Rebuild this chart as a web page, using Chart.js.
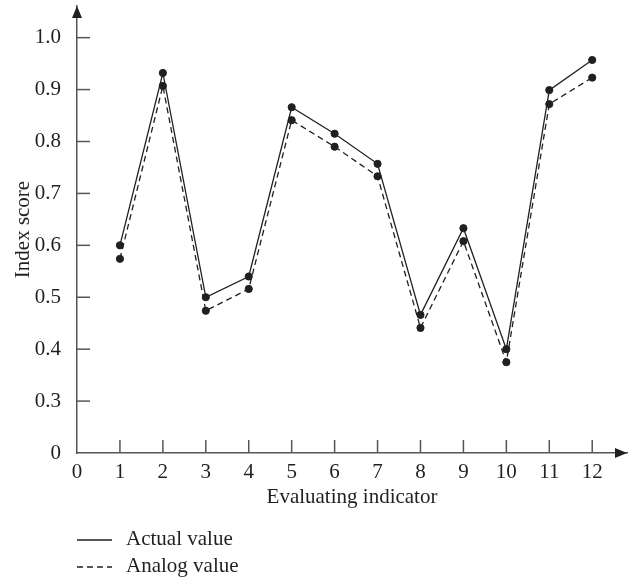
<!DOCTYPE html>
<html>
<head>
<meta charset="utf-8">
<script src="https://cdn.jsdelivr.net/npm/chart.js@4.4.1/dist/chart.umd.min.js"></script>
<style>
	html, body { margin: 0; padding: 0; background: #fff; }
	#wrap { width: 632px; height: 580px; }
</style>
</head>
<body>
<div id="wrap"><canvas id="index-chart" width="632" height="580"></canvas></div>
<script>

// data
const indicators = [1, 2, 3, 4, 5, 6, 7, 8, 9, 10, 11, 12];
const actualValues = [0.600, 0.932, 0.500, 0.540, 0.866, 0.815, 0.757, 0.466, 0.633, 0.400, 0.899, 0.957];
const analogValues = [0.574, 0.907, 0.474, 0.516, 0.841, 0.790, 0.733, 0.441, 0.608, 0.375, 0.872, 0.923];
const xTickLabels = [0, 1, 2, 3, 4, 5, 6, 7, 8, 9, 10, 11, 12];
const yTickLabels = [0, 0.3, 0.4, 0.5, 0.6, 0.7, 0.8, 0.9, 1.0];

const ink = '#231f20';
const axisColor = '#555555';

// the y axis is broken between 0 and 0.3, so values above 0.3 shift down by 0.2
function toAxis(v) {
	return v === 0 ? 0 : v - 0.2;
}

function points(values) {
	return indicators.map(function(x, i) {
		return { x: x, y: toAxis(values[i]) };
	});
}

Chart.defaults.font.family = "'Liberation Serif', 'DejaVu Serif', serif";
Chart.defaults.font.size = 21;
Chart.defaults.color = ink;

// <block:plugin>
const axisDecor = {
	id: 'axisDecor',
	afterDraw: function(chart) {
		const ctx = chart.ctx;
		const area = chart.chartArea;
		const xs = chart.scales.x;
		const ys = chart.scales.y;
		const x0 = xs.getPixelForValue(0);
		const y0 = ys.getPixelForValue(0);

		ctx.save();
		ctx.strokeStyle = axisColor;
		ctx.fillStyle = ink;
		ctx.lineWidth = 1.5;

		// tick marks point inward
		xTickLabels.forEach(function(v) {
			if (v === 0) return;
			const px = xs.getPixelForValue(v);
			ctx.beginPath();
			ctx.moveTo(px, y0);
			ctx.lineTo(px, y0 - 13);
			ctx.stroke();
		});
		yTickLabels.forEach(function(v) {
			if (v === 0) return;
			const py = ys.getPixelForValue(toAxis(v));
			ctx.beginPath();
			ctx.moveTo(x0, py);
			ctx.lineTo(x0 + 13, py);
			ctx.stroke();
		});

		// arrow heads
		ctx.beginPath();
		ctx.moveTo(x0, area.top);
		ctx.lineTo(x0 - 5, area.top + 12);
		ctx.lineTo(x0 + 5, area.top + 12);
		ctx.closePath();
		ctx.fill();

		ctx.beginPath();
		ctx.moveTo(area.right, y0);
		ctx.lineTo(area.right - 12, y0 - 5);
		ctx.lineTo(area.right - 12, y0 + 5);
		ctx.closePath();
		ctx.fill();

		// legend, stacked under the axis
		ctx.font = "21px 'Liberation Serif', 'DejaVu Serif', serif";
		ctx.textBaseline = 'middle';
		ctx.textAlign = 'left';
		chart.data.datasets.forEach(function(ds, i) {
			const ly = 540 + i * 27;
			ctx.strokeStyle = ink;
			ctx.lineWidth = 1.3;
			ctx.setLineDash(ds.borderDash || []);
			ctx.beginPath();
			ctx.moveTo(77, ly);
			ctx.lineTo(112, ly);
			ctx.stroke();
			ctx.setLineDash([]);
			ctx.fillText(ds.label, 126, ly - 1);
		});
		ctx.restore();
	}
};
// </block:plugin>

const data = {
	datasets: [
		{
			label: 'Actual value',
			data: points(actualValues),
			borderColor: ink,
			backgroundColor: ink,
			borderWidth: 1.3,
			pointRadius: 3.6,
			pointBorderWidth: 1,
			pointBackgroundColor: ink,
		},
		{
			label: 'Analog value',
			data: points(analogValues),
			borderColor: ink,
			backgroundColor: ink,
			borderWidth: 1.3,
			borderDash: [6, 4],
			pointRadius: 3.6,
			pointBorderWidth: 1,
			pointBackgroundColor: ink,
		}
	]
};

const config = {
	type: 'line',
	data: data,
	plugins: [axisDecor],
	options: {
		responsive: false,
		animation: false,
		layout: {
			padding: { top: 6, right: 4, left: 0, bottom: 70 }
		},
		plugins: {
			legend: { display: false },
			tooltip: { enabled: false }
		},
		scales: {
			x: {
				type: 'linear',
				min: 0,
				max: 12.81,
				afterBuildTicks: function(scale) {
					scale.ticks = xTickLabels.map(function(v) { return { value: v }; });
				},
				afterFit: function(scale) {
					scale.height = 57;
					scale.paddingLeft = 0;
					scale.paddingRight = 0;
				},
				grid: { display: false },
				border: { display: true, color: axisColor, width: 1.5 },
				ticks: {
					padding: -1,
					maxRotation: 0,
					autoSkip: false,
					callback: function(value) { return String(value); }
				},
				title: {
					display: true,
					text: 'Evaluating indicator',
					padding: 0
				}
			},
			y: {
				type: 'linear',
				min: 0,
				max: 0.861,
				afterBuildTicks: function(scale) {
					scale.ticks = yTickLabels.map(function(v) { return { value: toAxis(v) }; });
				},
				afterFit: function(scale) {
					scale.width = 77;
					scale.paddingTop = 0;
					scale.paddingBottom = 0;
				},
				grid: { display: false },
				border: { display: true, color: axisColor, width: 1.5 },
				ticks: {
					padding: 8,
					autoSkip: false,
					callback: function(value, index) {
						const v = yTickLabels[index];
						return v === 0 ? '0' : v.toFixed(1);
					}
				},
				title: {
					display: true,
					text: 'Index score',
					padding: { top: 11, bottom: 0 }
				}
			}
		}
	}
};

new Chart(document.getElementById('index-chart'), config);
</script>
</body>
</html>
